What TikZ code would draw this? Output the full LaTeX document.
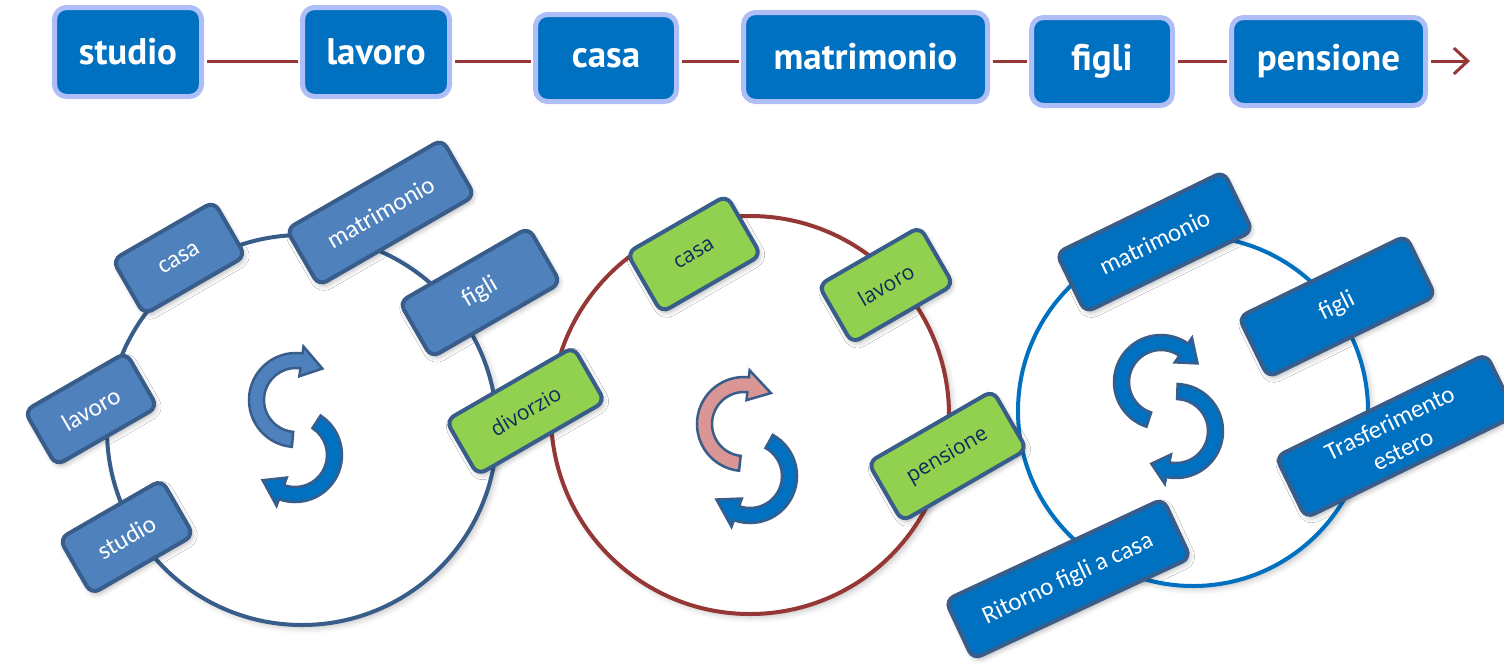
\documentclass[tikz,border=0pt]{standalone}
\usepackage{fontspec}
\setmainfont{Carlito}
\newfontfamily\topfont{PT Sans}
\newfontfamily\greenfont{Open Sans}
\usetikzlibrary{arrows.meta,shadows.blur}
\definecolor{topfill}{HTML}{0070C0}
\definecolor{ringc}{HTML}{B0BEF8}
\definecolor{linered}{HTML}{953735}
\definecolor{boxblue}{HTML}{4F81BD}
\definecolor{edgeblue}{HTML}{385D8A}
\definecolor{boxgreen}{HTML}{92D050}
\definecolor{navytext}{HTML}{0F2A5C}
\definecolor{pinkfill}{HTML}{D99694}
\tikzset{
  topbox/.style={draw=ringc, line width=5pt, fill=topfill, rounded corners=12pt,
    text=white, font=\topfont\bfseries\fontsize{37}{40}\selectfont,
    inner sep=0pt, minimum height=89pt},
  flow/.style={draw=linered, line width=3pt, shorten <=2.5pt, shorten >=2.5pt},
  softshadow/.style={blur shadow={shadow xshift=2pt, shadow yshift=-3pt,
    shadow blur radius=5pt, shadow opacity=30}},
  cbox/.style={draw=edgeblue, line width=4pt, rounded corners=9pt, inner sep=0pt,
    align=center, softshadow},
  bluebox/.style={cbox, fill=boxblue, text=white, font=\fontsize{25}{30}\selectfont},
  darkbox/.style={cbox, fill=topfill, text=white, font=\fontsize{25}{30}\selectfont},
  greenbox/.style={cbox, fill=boxgreen, text=navytext, font=\greenfont\fontsize{21}{24}\selectfont},
  ringshape/.style={circle, fill=white, line width=4pt, inner sep=0pt,
    blur shadow={shadow xshift=3pt, shadow yshift=-3pt, shadow blur radius=6pt, shadow opacity=25}},
  cycline/.style={draw=edgeblue, line width=2.5pt, line join=miter},
}
\newcommand\cycarrow[6]{%
  \draw[cycline, fill=#6, shift={(#1,#2)}]
    (#3:47) arc[start angle=#3, end angle=#4, radius=47]
    -- (#4:54) -- (#5:41) -- (#4:24) -- (#4:32)
    arc[start angle=#4, end angle=#3, radius=32] -- cycle;}
\begin{document}
\begin{tikzpicture}[x=1pt,y=1pt]
\useasboundingbox (0,0) rectangle (1504,-665);

% ---------- top row ----------
\node[topbox, minimum width=147pt] (t1) at (128,-52) {studio};
\node[topbox, minimum width=147pt] (t2) at (376,-52) {lavoro};
\node[topbox, minimum width=141pt, minimum height=87pt] (t3) at (606,-58) {casa};
\node[topbox, minimum width=244pt] (t4) at (865.5,-57) {matrimonio};
\node[topbox, minimum width=141pt, minimum height=88pt] (t5) at (1102,-61.5) {figli};
\node[topbox, minimum width=194pt, minimum height=88pt] (t6) at (1328.5,-61.5) {pensione};
\coordinate (tend) at (1470,-61);
\draw[flow] (t1.east |- tend) -- (t2.west |- tend);
\draw[flow] (t2.east |- tend) -- (t3.west |- tend);
\draw[flow] (t3.east |- tend) -- (t4.west |- tend);
\draw[flow] (t4.east |- tend) -- (t5.west |- tend);
\draw[flow] (t5.east |- tend) -- (t6.west |- tend);
\draw[flow, shorten >=0pt, -{Straight Barb[length=14pt,width=26pt]}] (t6.east |- tend) -- (tend);

% ---------- circles ----------
\node[ringshape, draw=edgeblue, minimum size=390pt] (c1) at (302,-430) {};
\node[ringshape, draw=linered, minimum size=398pt] (c2) at (750,-415) {};
\node[ringshape, draw=topfill, minimum size=350pt] (c3) at (1193,-411) {};

% ---------- cycle arrows ----------
\cycarrow{296}{-400}{265}{82}{50}{boxblue}
\cycarrow{295}{-455}{57}{-110}{-142}{topfill}
\cycarrow{744}{-424}{264}{84}{49}{pinkfill}
\cycarrow{750}{-476}{61}{-110}{-145}{topfill}
\cycarrow{1161}{-382}{252}{55}{27}{topfill}
\cycarrow{1176}{-431}{88}{-102}{-127}{topfill}

% ---------- circle 1 boxes ----------
\node[bluebox, rotate=30, minimum width=117pt, minimum height=63pt] (c1casa) at (179,-258) {casa};
\node[bluebox, rotate=30, minimum width=180pt, minimum height=65pt] (c1matr) at (380.5,-212.5) {matrimonio};
\node[bluebox, rotate=30, minimum width=149pt, minimum height=64pt] (c1figli) at (480,-292.5) {figli};
\node[bluebox, rotate=30, minimum width=117pt, minimum height=63pt] (c1lav) at (91,-409) {lavoro};
\node[bluebox, rotate=30, minimum width=118pt, minimum height=64pt] (c1stud) at (126.5,-537) {studio};
\node[greenbox, rotate=30, minimum width=147pt, minimum height=63pt] (c1div) at (525.5,-411) {divorzio};

% ---------- circle 2 boxes ----------
\node[greenbox, rotate=30, minimum width=115pt, minimum height=69pt] (c2casa) at (694,-254) {casa};
\node[greenbox, rotate=30, minimum width=117pt, minimum height=67pt] (c2lav) at (886,-285) {lavoro};
\node[greenbox, rotate=30, minimum width=144pt, minimum height=68pt] (c2pens) at (947.5,-456) {pensione};

% ---------- circle 3 boxes ----------
\node[darkbox, rotate=26, minimum width=186pt, minimum height=66pt] (c3matr) at (1154.5,-242) {matrimonio};
\node[darkbox, rotate=26, minimum width=186pt, minimum height=67pt] (c3figli) at (1337,-306.5) {figli};
\node[darkbox, rotate=26, minimum width=234pt, minimum height=68pt] (c3trasf) at (1396,-436) {Trasferimento\\estero};
\node[darkbox, rotate=25, minimum width=240pt, minimum height=65pt] (c3rit) at (1068,-579) {Ritorno figli a casa};
\end{tikzpicture}
\end{document}
